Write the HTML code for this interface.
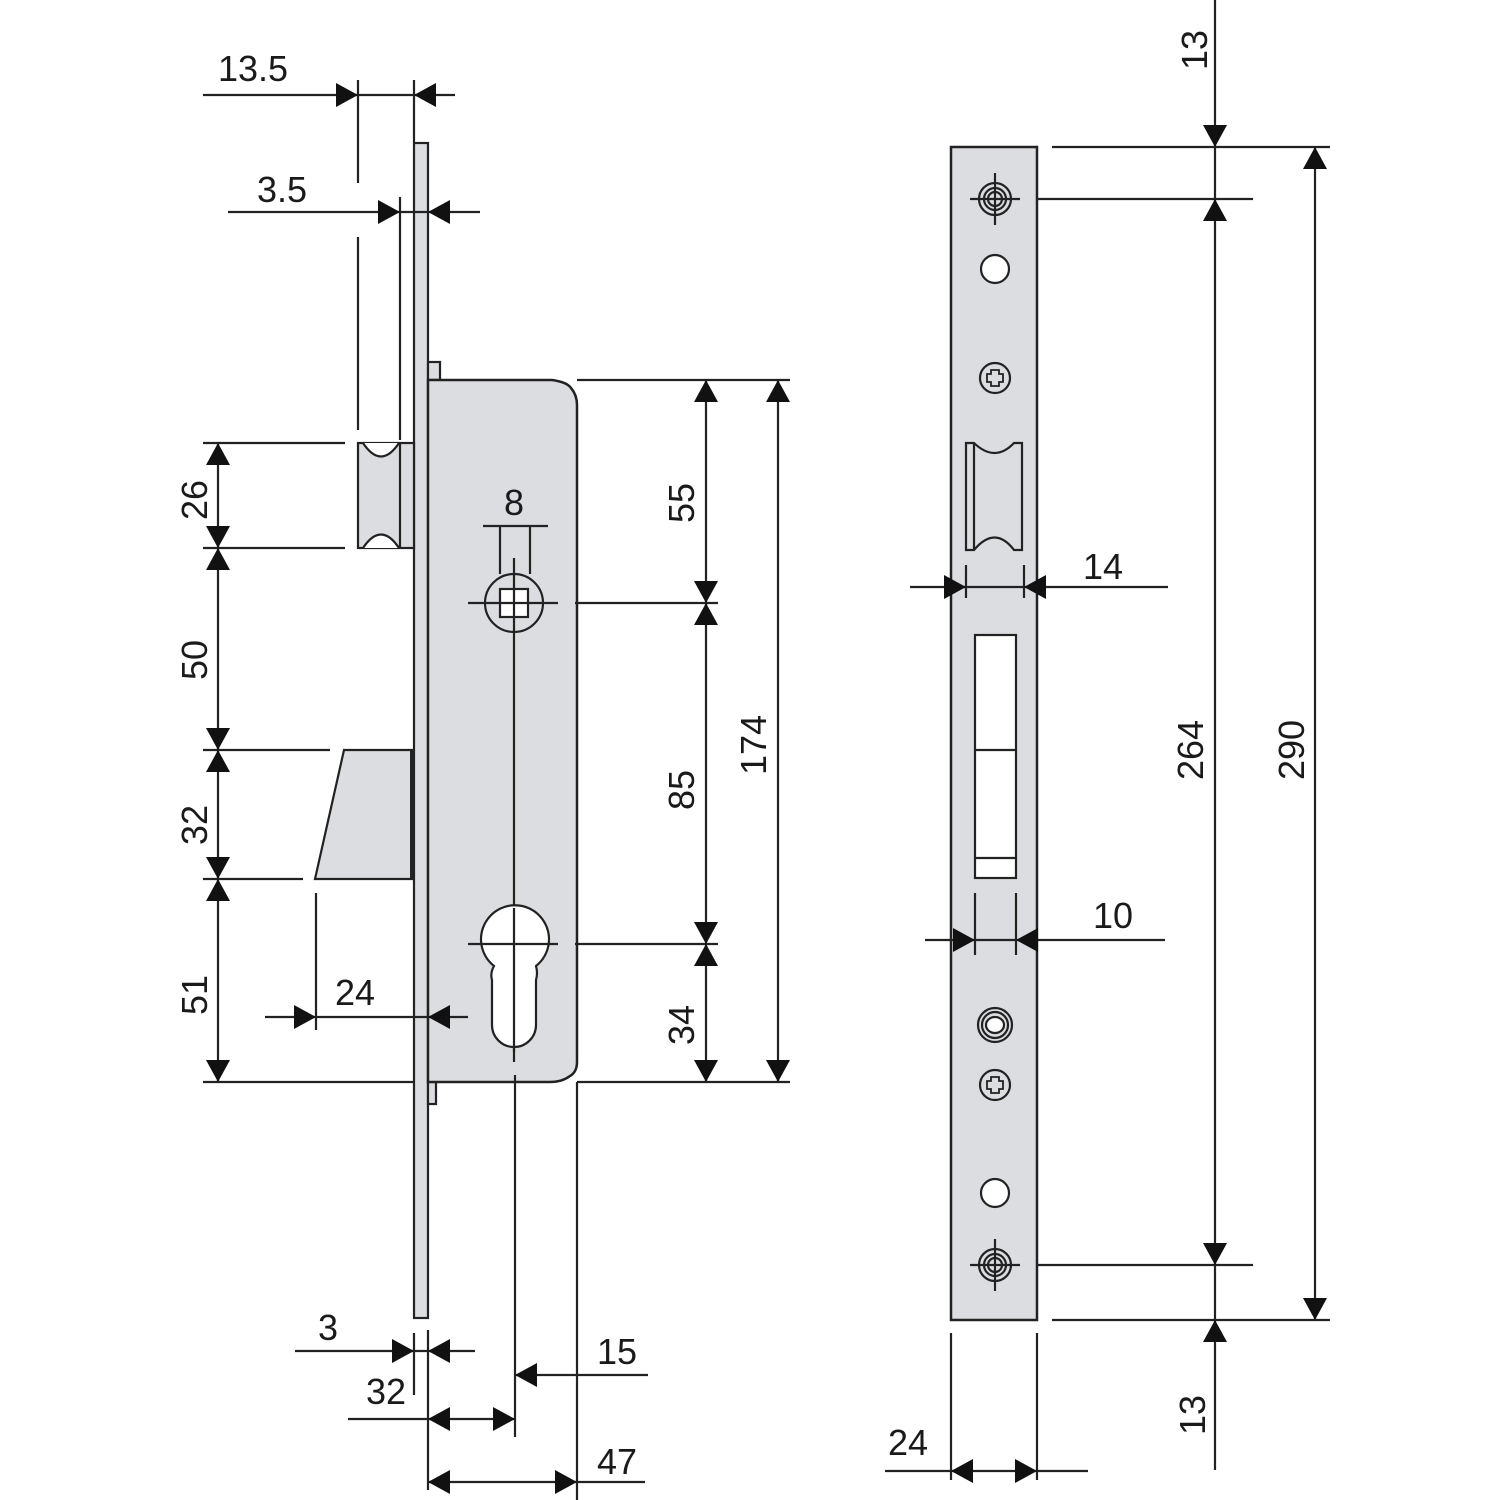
<!DOCTYPE html>
<html><head><meta charset="utf-8"><style>
html,body{margin:0;padding:0;background:#fff}
svg{display:block}
text{font-family:"Liberation Sans",Arial,sans-serif;font-size:36px;fill:#1a1a1a}
</style></head><body>
<svg width="1500" height="1500" viewBox="0 0 1500 1500" xmlns="http://www.w3.org/2000/svg">
<g stroke="#222" stroke-width="2.2" fill="none">
<rect x="414" y="143" width="14" height="1175" fill="#dcdde0"/>
<rect x="428" y="362" width="12" height="18" fill="#dcdde0"/>
<rect x="428" y="1082" width="8" height="22" fill="#dcdde0"/>
<path d="M428,380 L552,380 Q567,382 571,388 Q577,395 577,405 L577,1062 Q577,1072 570,1076 Q562,1082 550,1082 L428,1082 Z" fill="#dcdde0" stroke-width="2.5"/>
<rect x="358" y="443" width="56" height="105" fill="#dcdde0"/>
<line x1="400" y1="443" x2="400" y2="548"/>
<path d="M363,443 Q381,470 399,443" fill="#fff"/>
<path d="M363,548 Q381,521 399,548" fill="#fff"/>
<polygon points="344,750 413,750 413,879 315,879" fill="#dcdde0"/>
<line x1="412" y1="750" x2="412" y2="879" stroke-width="4"/>
<circle cx="514" cy="603" r="29"/>
<rect x="500" y="589" width="28" height="28" fill="#fff"/>
<line x1="468" y1="603" x2="558" y2="603"/>
<line x1="514" y1="558" x2="514" y2="1052"/>
<line x1="483" y1="526" x2="548" y2="526"/>
<line x1="500" y1="526" x2="500" y2="574"/>
<line x1="530" y1="526" x2="530" y2="574"/>
<path d="M494,966 A34,34 0 1 1 536,966 Q538,973 536,980 L536,1025 A22,22 0 0 1 492,1025 L492,980 Q490,973 494,966 Z" fill="#fff"/>
<line x1="468" y1="944" x2="558" y2="944"/>
<line x1="514" y1="908" x2="514" y2="1062"/>
<line x1="515" y1="1075" x2="515" y2="1437"/>
<line x1="577" y1="1082" x2="577" y2="1500"/>
<line x1="428" y1="1330" x2="428" y2="1490"/>
<line x1="414" y1="1333" x2="414" y2="1395"/>
<line x1="203" y1="95" x2="455" y2="95"/>
<line x1="358" y1="80" x2="358" y2="183"/>
<line x1="414" y1="80" x2="414" y2="143"/>
<line x1="228" y1="212" x2="480" y2="212"/>
<line x1="400" y1="197" x2="400" y2="440"/>
<line x1="358" y1="237" x2="358" y2="430"/>
<line x1="218" y1="443" x2="218" y2="1082"/>
<line x1="203" y1="443" x2="345" y2="443"/>
<line x1="203" y1="548" x2="345" y2="548"/>
<line x1="203" y1="750" x2="330" y2="750"/>
<line x1="203" y1="879" x2="303" y2="879"/>
<line x1="203" y1="1082" x2="414" y2="1082"/>
<line x1="316" y1="893" x2="316" y2="1030"/>
<line x1="265" y1="1017" x2="468" y2="1017"/>
<line x1="577" y1="380" x2="790" y2="380"/>
<line x1="575" y1="603" x2="718" y2="603"/>
<line x1="575" y1="944" x2="718" y2="944"/>
<line x1="577" y1="1082" x2="790" y2="1082"/>
<line x1="706" y1="380" x2="706" y2="1082"/>
<line x1="778" y1="380" x2="778" y2="1082"/>
<line x1="295" y1="1351" x2="475" y2="1351"/>
<line x1="348" y1="1419" x2="515" y2="1419"/>
<line x1="515" y1="1375" x2="648" y2="1375"/>
<line x1="428" y1="1482" x2="645" y2="1482"/>
<rect x="951" y="147" width="86" height="1173" fill="#dcdde0" stroke-width="2.5"/>
<circle cx="995" cy="199" r="16"/><circle cx="995" cy="199" r="11"/><circle cx="995" cy="199" r="7"/>
<line x1="970" y1="199" x2="1020" y2="199"/><line x1="995" y1="173" x2="995" y2="225"/>
<circle cx="995" cy="269" r="14" fill="#fff"/>
<circle cx="995" cy="378" r="15"/>
<path d="M991,370 h8 v4 h4 v8 h-4 v4 h-8 v-4 h-4 v-8 h4 z" stroke-width="1.8"/>
<path d="M966,443 L974,443 Q995,463 1014,443 L1022,443 L1022,550 L1014,550 Q995,525 974,550 L966,550 Z" fill="#dcdde0"/>
<line x1="974" y1="443" x2="974" y2="550"/>
<rect x="975" y="635" width="41" height="243" fill="#fff"/>
<line x1="975" y1="750" x2="1016" y2="750"/>
<line x1="975" y1="858" x2="1016" y2="858"/>
<line x1="966" y1="565" x2="966" y2="598"/><line x1="1024" y1="565" x2="1024" y2="598"/>
<line x1="910" y1="587" x2="1168" y2="587"/>
<line x1="975" y1="893" x2="975" y2="955"/><line x1="1016" y1="893" x2="1016" y2="955"/>
<line x1="925" y1="940" x2="1165" y2="940"/>
<circle cx="995" cy="1025" r="17"/><circle cx="995" cy="1025" r="13"/><ellipse cx="995" cy="1025" rx="9" ry="8" fill="#fff"/>
<circle cx="995" cy="1085" r="15"/>
<path d="M991,1077 h8 v4 h4 v8 h-4 v4 h-8 v-4 h-4 v-8 h4 z" stroke-width="1.8"/>
<circle cx="995" cy="1193" r="14" fill="#fff"/>
<circle cx="995" cy="1265" r="16"/><circle cx="995" cy="1265" r="11"/><circle cx="995" cy="1265" r="7"/>
<line x1="970" y1="1265" x2="1020" y2="1265"/><line x1="995" y1="1239" x2="995" y2="1291"/>
<line x1="1052" y1="147" x2="1330" y2="147"/>
<line x1="1037" y1="199" x2="1253" y2="199"/>
<line x1="1037" y1="1265" x2="1253" y2="1265"/>
<line x1="1052" y1="1320" x2="1330" y2="1320"/>
<line x1="1215" y1="0" x2="1215" y2="1470"/>
<line x1="1315" y1="147" x2="1315" y2="1320"/>
<line x1="951" y1="1333" x2="951" y2="1480"/>
<line x1="1037" y1="1333" x2="1037" y2="1480"/>
<line x1="885" y1="1471" x2="1088" y2="1471"/>
</g>
<g fill="#111">
<polygon points="358,95 336,83 336,107"/>
<polygon points="414,95 436,83 436,107"/>
<polygon points="400,212 378,200 378,224"/>
<polygon points="428,212 450,200 450,224"/>
<polygon points="316,1017 294,1005 294,1029"/>
<polygon points="428,1017 450,1005 450,1029"/>
<polygon points="414,1351 392,1339 392,1363"/>
<polygon points="428,1351 450,1339 450,1363"/>
<polygon points="428,1419 450,1407 450,1431"/>
<polygon points="515,1419 493,1407 493,1431"/>
<polygon points="515,1375 537,1363 537,1387"/>
<polygon points="428,1482 450,1470 450,1494"/>
<polygon points="577,1482 555,1470 555,1494"/>
<polygon points="966,587 944,575 944,599"/>
<polygon points="1024,587 1046,575 1046,599"/>
<polygon points="975,940 953,928 953,952"/>
<polygon points="1016,940 1038,928 1038,952"/>
<polygon points="951,1471 973,1459 973,1483"/>
<polygon points="1037,1471 1015,1459 1015,1483"/>
<polygon points="218,443 206,465 230,465"/>
<polygon points="218,548 206,526 230,526"/>
<polygon points="218,548 206,570 230,570"/>
<polygon points="218,750 206,728 230,728"/>
<polygon points="218,750 206,772 230,772"/>
<polygon points="218,879 206,857 230,857"/>
<polygon points="218,879 206,901 230,901"/>
<polygon points="218,1082 206,1060 230,1060"/>
<polygon points="706,380 694,402 718,402"/>
<polygon points="706,603 694,581 718,581"/>
<polygon points="706,603 694,625 718,625"/>
<polygon points="706,944 694,922 718,922"/>
<polygon points="706,944 694,966 718,966"/>
<polygon points="706,1082 694,1060 718,1060"/>
<polygon points="778,380 766,402 790,402"/>
<polygon points="778,1082 766,1060 790,1060"/>
<polygon points="1215,147 1203,125 1227,125"/>
<polygon points="1215,199 1203,221 1227,221"/>
<polygon points="1215,1265 1203,1243 1227,1243"/>
<polygon points="1215,1320 1203,1342 1227,1342"/>
<polygon points="1315,147 1303,169 1327,169"/>
<polygon points="1315,1320 1303,1298 1327,1298"/>
</g>
<g>
<text x="253" y="81" text-anchor="middle">13.5</text>
<text x="282" y="202" text-anchor="middle">3.5</text>
<text x="514" y="515" text-anchor="middle">8</text>
<text x="355" y="1005" text-anchor="middle">24</text>
<text x="328" y="1340" text-anchor="middle">3</text>
<text x="386" y="1404" text-anchor="middle">32</text>
<text x="617" y="1364" text-anchor="middle">15</text>
<text x="617" y="1474" text-anchor="middle">47</text>
<text x="1103" y="579" text-anchor="middle">14</text>
<text x="1113" y="928" text-anchor="middle">10</text>
<text x="908" y="1455" text-anchor="middle">24</text>
<text transform="translate(207,500) rotate(-90)" text-anchor="middle">26</text>
<text transform="translate(207,660) rotate(-90)" text-anchor="middle">50</text>
<text transform="translate(207,825) rotate(-90)" text-anchor="middle">32</text>
<text transform="translate(207,995) rotate(-90)" text-anchor="middle">51</text>
<text transform="translate(694,503) rotate(-90)" text-anchor="middle">55</text>
<text transform="translate(694,790) rotate(-90)" text-anchor="middle">85</text>
<text transform="translate(694,1025) rotate(-90)" text-anchor="middle">34</text>
<text transform="translate(766,745) rotate(-90)" text-anchor="middle">174</text>
<text transform="translate(1207,50) rotate(-90)" text-anchor="middle">13</text>
<text transform="translate(1203,750) rotate(-90)" text-anchor="middle">264</text>
<text transform="translate(1304,750) rotate(-90)" text-anchor="middle">290</text>
<text transform="translate(1205,1415) rotate(-90)" text-anchor="middle">13</text>
</g>
</svg>
</body></html>
